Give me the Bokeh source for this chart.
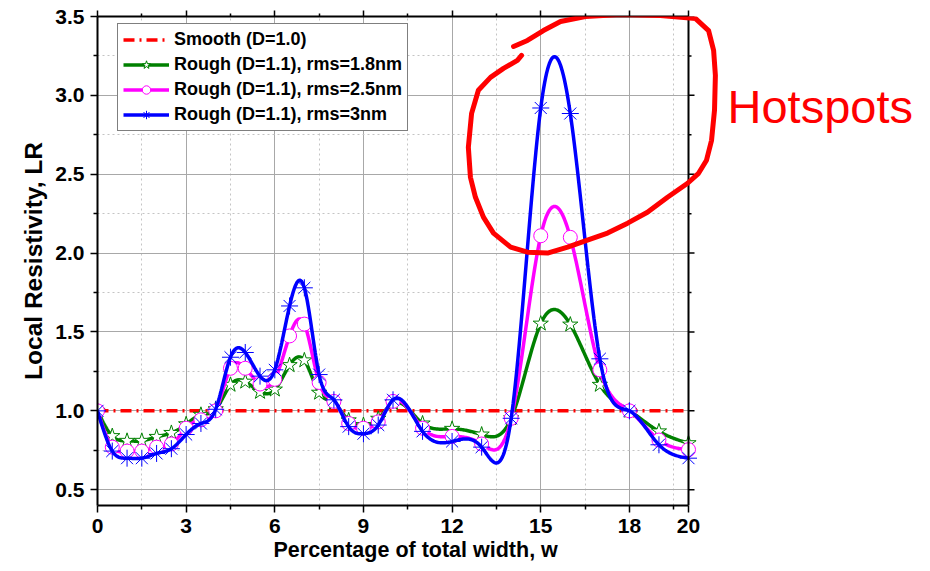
import numpy as np
from bokeh.plotting import figure
from bokeh.models import (Range1d, FixedTicker, LinearAxis, Legend, LegendItem, Label, Span, Title,
                          BoxAnnotation, PolyAnnotation, CustomJSTickFormatter, NumeralTickFormatter)
from bokeh.embed import file_html
from bokeh.resources import INLINE

# ---------------- data ----------------
w_points = [0, 0.5, 1, 1.5, 2, 2.5, 3, 3.5, 4, 4.5, 5, 5.5, 6, 6.5, 7, 7.5, 8, 8.5, 9, 9.5, 10,
            11, 12, 13, 14, 15, 16, 17, 18, 19, 20]
lr_rms18 = [1.00, 0.84, 0.81, 0.81, 0.835, 0.86, 0.915, 0.975, 1.01, 1.165, 1.185, 1.12, 1.135,
            1.29, 1.32, 1.115, 1.05, 0.94, 0.91, 0.95, 1.05,
            0.92, 0.886, 0.85, 0.953, 1.553, 1.547, 1.165, 1.00, 0.87, 0.795]
lr_rms25 = [1.00, 0.77, 0.745, 0.745, 0.77, 0.79, 0.89, 0.943, 1.00, 1.27, 1.27, 1.17, 1.20,
            1.475, 1.55, 1.18, 1.06, 0.92, 0.89, 0.93, 1.06,
            0.89, 0.838, 0.79, 0.953, 2.11, 2.10, 1.26, 1.00, 0.815, 0.754]
lr_rms3 = [1.00, 0.745, 0.70, 0.70, 0.73, 0.76, 0.85, 0.92, 1.01, 1.34, 1.37, 1.22, 1.26,
           1.665, 1.78, 1.23, 1.07, 0.90, 0.855, 0.91, 1.07,
           0.87, 0.806, 0.77, 0.953, 2.92, 2.885, 1.33, 1.00, 0.785, 0.70]
smooth_w = [0, 20]
smooth_lr = [1.0, 1.0]

x_major_ticks = [0, 3, 6, 9, 12, 15, 18, 20]
x_minor_ticks = [1.5, 4.5, 7.5, 10.5, 13.5, 16.5, 19.5]
y_major_ticks = [0.5, 1.0, 1.5, 2.0, 2.5, 3.0, 3.5]
y_minor_ticks = [0.75, 1.25, 1.75, 2.25, 2.75, 3.25]

labels = ["Smooth (D=1.0)", "Rough (D=1.1), rms=1.8nm",
          "Rough (D=1.1), rms=2.5nm", "Rough (D=1.1), rms=3nm"]
x_title = "Percentage of total width, w"
y_title = "Local Resistivity, LR"

# hand-drawn "hotspots" loop (annotation path, data units)
loop_w = [14.08, 14.55, 15.09, 15.67, 16.51, 17.70, 19.05, 20.24, 20.68, 20.85, 20.91, 20.88,
          20.78, 20.61, 20.34, 19.97, 19.29, 18.61, 17.94, 17.26, 16.58, 15.91, 15.23, 14.55,
          13.98, 13.40, 13.06, 12.79, 12.62, 12.55, 12.66, 12.89, 13.30, 13.74, 14.21, 14.35]
loop_lr = [3.310, 3.348, 3.411, 3.468, 3.500, 3.513, 3.506, 3.487, 3.411, 3.285, 3.127, 2.905,
           2.715, 2.589, 2.506, 2.443, 2.354, 2.259, 2.190, 2.127, 2.082, 2.038, 2.000, 2.006,
           2.038, 2.127, 2.228, 2.354, 2.481, 2.671, 2.886, 3.032, 3.114, 3.171, 3.222, 3.253]


def spline_curve(xs, ys, per=30):
    """natural cubic spline through the data points (Origin 'spline' connect style)"""
    x = np.asarray(xs, float)
    y = np.asarray(ys, float)
    n = len(x)
    h = np.diff(x)
    A = np.zeros((n, n))
    b = np.zeros(n)
    A[0, 0] = A[-1, -1] = 1.0
    for i in range(1, n - 1):
        A[i, i - 1] = h[i - 1]
        A[i, i] = 2 * (h[i - 1] + h[i])
        A[i, i + 1] = h[i]
        b[i] = 6 * ((y[i + 1] - y[i]) / h[i] - (y[i] - y[i - 1]) / h[i - 1])
    M = np.linalg.solve(A, b)
    ox, oy = [], []
    for i in range(n - 1):
        t = np.linspace(x[i], x[i + 1], per, endpoint=(i == n - 2))
        a = x[i + 1] - t
        c = t - x[i]
        s = (M[i] * a ** 3 / (6 * h[i]) + M[i + 1] * c ** 3 / (6 * h[i])
             + (y[i] / h[i] - M[i] * h[i] / 6) * a + (y[i + 1] / h[i] - M[i + 1] * h[i] / 6) * c)
        ox.extend(t.tolist())
        oy.extend(s.tolist())
    return ox, oy


FONT = "Liberation Sans"
W, H = 930, 571
LEFT, RIGHT_EDGE = 97, 688          # pixel columns of w=0 and w=20
X0, X1 = x_major_ticks[0], x_major_ticks[-1]
# the frame runs to the window edge so the annotation can leave the axes box
x_end = X0 + (X1 - X0) * (W - LEFT) / (RIGHT_EDGE - LEFT)
px_per_unit = (RIGHT_EDGE - LEFT) / (X1 - X0)

p = figure(width=W, height=H, output_backend="svg", toolbar_location=None,
           x_range=Range1d(X0, x_end), y_range=Range1d(0.4, 3.5),
           min_border_left=LEFT, min_border_right=0, min_border_top=16, min_border_bottom=66,
           y_axis_label=y_title)
p.background_fill_color = "white"
p.border_fill_color = "white"
p.outline_line_color = None

xt = FixedTicker(ticks=x_major_ticks, minor_ticks=x_minor_ticks)
yt = FixedTicker(ticks=y_major_ticks, minor_ticks=y_minor_ticks)
p.xaxis[0].ticker = xt
p.yaxis[0].ticker = yt
p.yaxis[0].formatter = NumeralTickFormatter(format="0.0")
p.xaxis[0].bounds = (X0, X1)

for g in (p.xgrid[0], p.ygrid[0]):
    g.grid_line_color = "#a8a8a8"
    g.grid_line_width = 1
    g.minor_grid_line_color = "#c4c4c4"
    g.minor_grid_line_dash = "2 3"
    g.minor_grid_line_width = 1
p.xgrid[0].ticker = xt
p.ygrid[0].ticker = yt

# hide the horizontal grid to the right of w=20
p.add_layout(BoxAnnotation(left=X1, right=x_end, fill_color="white", fill_alpha=1,
                           line_color=None, level="underlay"))

for ax in (p.xaxis[0], p.yaxis[0]):
    ax.axis_line_width = 2
    ax.axis_line_color = "black"
    ax.major_tick_in = 0
    ax.major_tick_out = 7
    ax.minor_tick_in = 0
    ax.minor_tick_out = 4
    ax.major_tick_line_width = 1.5
    ax.minor_tick_line_width = 1.5
    ax.major_label_text_font = FONT
    ax.major_label_text_font_style = "bold"
    ax.major_label_text_font_size = "21px"
    ax.major_label_text_color = "black"
    ax.axis_label_text_font = FONT
    ax.axis_label_text_font_style = "bold"
    ax.axis_label_text_color = "black"
p.yaxis[0].axis_label_text_font_size = "24.5px"
p.xaxis[0].major_label_standoff = 6
p.yaxis[0].major_label_standoff = 6
p.yaxis[0].axis_label_standoff = 5

# x-axis title, placed under the w = 0..20 span of the axis
p.add_layout(Title(text=x_title, align="left", offset=176, standoff=0,
                   text_font=FONT, text_font_style="bold", text_font_size="21.5px",
                   text_color="black"), "below")

blank = CustomJSTickFormatter(code="return ''")
top = LinearAxis(ticker=xt, formatter=blank, bounds=(X0, X1))
top.axis_line_width = 2
top.major_tick_in = 0
top.major_tick_out = 6
top.minor_tick_in = 0
top.minor_tick_out = 3
top.major_tick_line_width = 1.5
top.minor_tick_line_width = 1.5
top.major_label_text_font_size = "0px"
top.major_label_standoff = 0
p.add_layout(top, "above")

# right border of the axes box at w=20, with outward ticks
p.add_layout(Span(location=X1, dimension="height", line_color="black", line_width=2))
p.segment(x0=[X1] * len(y_major_ticks), x1=[X1 + 6 / px_per_unit] * len(y_major_ticks),
          y0=y_major_ticks, y1=y_major_ticks, line_color="black", line_width=1.5)
p.segment(x0=[X1] * len(y_minor_ticks), x1=[X1 + 3 / px_per_unit] * len(y_minor_ticks),
          y0=y_minor_ticks, y1=y_minor_ticks, line_color="black", line_width=1.5)

# ---------------- series ----------------
r_smooth = p.line(smooth_w, smooth_lr, line_color="#ff0000", line_width=3.5, line_dash="11 5 2 5")

green = "#008000"
magenta = "#ff00ff"
blue = "#0000ff"

sx, sy = spline_curve(w_points, lr_rms18)
l1 = p.line(sx, sy, line_color=green, line_width=3.5)
m1 = p.scatter(w_points, lr_rms18, marker="star", size=16, line_color=green,
               fill_color="white", line_width=1)
sx, sy = spline_curve(w_points, lr_rms25)
l2 = p.line(sx, sy, line_color=magenta, line_width=3.5)
m2 = p.scatter(w_points, lr_rms25, marker="circle", size=14, line_color=magenta,
               fill_color="white", line_width=1)
sx, sy = spline_curve(w_points, lr_rms3)
l3 = p.line(sx, sy, line_color=blue, line_width=3.5)
m3 = p.scatter(w_points, lr_rms3, marker="asterisk", size=17, line_color=blue, line_width=1)

legend = Legend(items=[
    LegendItem(label=labels[0], renderers=[r_smooth]),
    LegendItem(label=labels[1], renderers=[l1, m1]),
    LegendItem(label=labels[2], renderers=[l2, m2]),
    LegendItem(label=labels[3], renderers=[l3, m3]),
], location=(20, 374))
legend.label_text_font = FONT
legend.label_text_font_style = "bold"
legend.label_text_font_size = "18px"
legend.label_text_color = "black"
legend.border_line_color = "black"
legend.border_line_width = 1.5
legend.background_fill_color = "white"
legend.background_fill_alpha = 1
legend.padding = 5
legend.spacing = 4
legend.label_height = 21
legend.glyph_height = 21
legend.glyph_width = 46
legend.label_standoff = 5
legend.margin = 0
p.add_layout(legend)

# ---------------- hotspot annotation ----------------
# path goes out and back so the closing edge of the polygon has no length (open stroke)
path_w = loop_w + loop_w[::-1]
path_lr = loop_lr + loop_lr[::-1]
p.add_layout(PolyAnnotation(xs=path_w, ys=path_lr, line_color="#ff0000", line_alpha=1.0,
                            line_width=5, line_join="round", fill_alpha=0, fill_color=None))
p.add_layout(Label(x=X1, y=2.93, x_offset=39, text="Hotspots", text_font=FONT,
                   text_font_size="47px", text_color="#ff0000", text_baseline="alphabetic"))

open("out.html", "w").write(file_html(p, INLINE))
